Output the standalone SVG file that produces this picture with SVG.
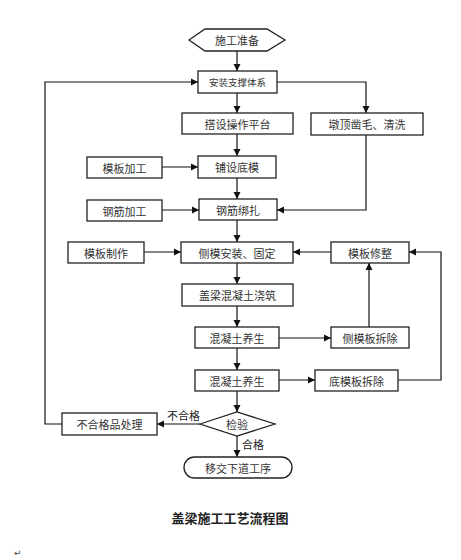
<svg xmlns="http://www.w3.org/2000/svg" width="461" height="560" viewBox="0 0 461 560">
<style>
.b{fill:#fff;stroke:#222;stroke-width:1.3}
.t{font-family:"Noto Sans CJK SC","Noto Sans",sans-serif;font-size:11px;fill:#333;text-anchor:middle;dominant-baseline:central}
.c{fill:none;stroke:#111;stroke-width:1.2}
.l{font-family:"Noto Sans CJK SC","Noto Sans",sans-serif;font-size:11px;fill:#222}
</style>
<defs>
<marker id="a" markerWidth="8" markerHeight="8" refX="7" refY="4" orient="auto" markerUnits="userSpaceOnUse">
<path d="M0,0.5 L7,4 L0,7.5 Z" fill="#111"/>
</marker>
</defs>
<rect width="461" height="560" fill="#fff"/>
<g id="connectors" class="c" marker-end="url(#a)">
<path d="M237,51 V71"/>
<path d="M237,93 V113"/>
<path d="M237,134 V156"/>
<path d="M237,178 V199"/>
<path d="M237,220 V242"/>
<path d="M237,263 V284"/>
<path d="M237,306 V327"/>
<path d="M237,348 V370"/>
<path d="M237,391 V412"/>
<path d="M237,436 V457"/>
<path d="M162,167 H198"/>
<path d="M162,210 H199"/>
<path d="M144,252 H181"/>
<path d="M331,252 H293"/>
<path d="M279,338 H331"/>
<path d="M369,327 V263"/>
<path d="M279,380 H315"/>
<path d="M398,380 H441 V252 H409"/>
<path d="M277,82 H366 V113"/>
<path d="M366,135 V210 H277"/>
<path d="M200,424 H157"/>
<path d="M62,424 H45 V82 H198"/>
</g>
<g id="n-start"><polygon class="b" points="189,40 205,29 267,29 285,40 267,51 205,51"/><text class="t" x="237" y="40">施工准备</text></g>
<g id="n-support"><rect class="b" x="198" y="71" width="79" height="22"/><text class="t" x="237.5" y="82" style="font-size:9.5px">安装支撑体系</text></g>
<g id="n-platform"><rect class="b" x="182" y="113" width="111" height="21"/><text class="t" x="237.5" y="123.5">搭设操作平台</text></g>
<g id="n-pier"><rect class="b" x="311" y="113" width="112" height="22"/><text class="t" x="367" y="124">墩顶凿毛、清洗</text></g>
<g id="n-bottomform"><rect class="b" x="198" y="156" width="78" height="22"/><text class="t" x="237" y="167">铺设底模</text></g>
<g id="n-formproc"><rect class="b" x="87" y="157" width="75" height="21"/><text class="t" x="124.5" y="167.5">模板加工</text></g>
<g id="n-rebarbind"><rect class="b" x="199" y="199" width="78" height="21"/><text class="t" x="238" y="209.5">钢筋绑扎</text></g>
<g id="n-rebarproc"><rect class="b" x="87" y="200" width="75" height="21"/><text class="t" x="124.5" y="210.5">钢筋加工</text></g>
<g id="n-sideform"><rect class="b" x="181" y="242" width="112" height="21"/><text class="t" x="237" y="252.5">侧模安装、固定</text></g>
<g id="n-formmake"><rect class="b" x="68" y="242" width="76" height="21"/><text class="t" x="106" y="252.5">模板制作</text></g>
<g id="n-formfix"><rect class="b" x="331" y="242" width="78" height="21"/><text class="t" x="370" y="252.5">模板修整</text></g>
<g id="n-pour"><rect class="b" x="182" y="284" width="111" height="22"/><text class="t" x="237.5" y="295">盖梁混凝土浇筑</text></g>
<g id="n-cure1"><rect class="b" x="195" y="327" width="84" height="21"/><text class="t" x="237" y="337.5">混凝土养生</text></g>
<g id="n-sideremove"><rect class="b" x="331" y="327" width="78" height="21"/><text class="t" x="370" y="337.5">侧模板拆除</text></g>
<g id="n-cure2"><rect class="b" x="195" y="370" width="84" height="21"/><text class="t" x="237" y="380.5">混凝土养生</text></g>
<g id="n-bottomremove"><rect class="b" x="315" y="370" width="83" height="21"/><text class="t" x="356.5" y="380.5">底模板拆除</text></g>
<g id="n-check"><polygon class="b" points="200,424 237,412 275,424 237,436"/><text class="t" x="237" y="424">检验</text></g>
<g id="n-reject"><rect class="b" x="62" y="413" width="95" height="22"/><text class="t" x="109.5" y="424">不合格品处理</text></g>
<g id="n-next"><rect class="b" x="184" y="457" width="108" height="21" rx="10.5"/><text class="t" x="238" y="467.5">移交下道工序</text></g>
<text class="l" x="167" y="420">不合格</text>
<text class="l" x="242" y="449">合格</text>
<text x="230" y="523" font-family="Noto Sans CJK SC, sans-serif" font-size="13" font-weight="bold" fill="#222" text-anchor="middle">盖梁施工工艺流程图</text>
<text x="14" y="556" font-family="DejaVu Sans, sans-serif" font-size="9" fill="#444">↵</text>
</svg>
